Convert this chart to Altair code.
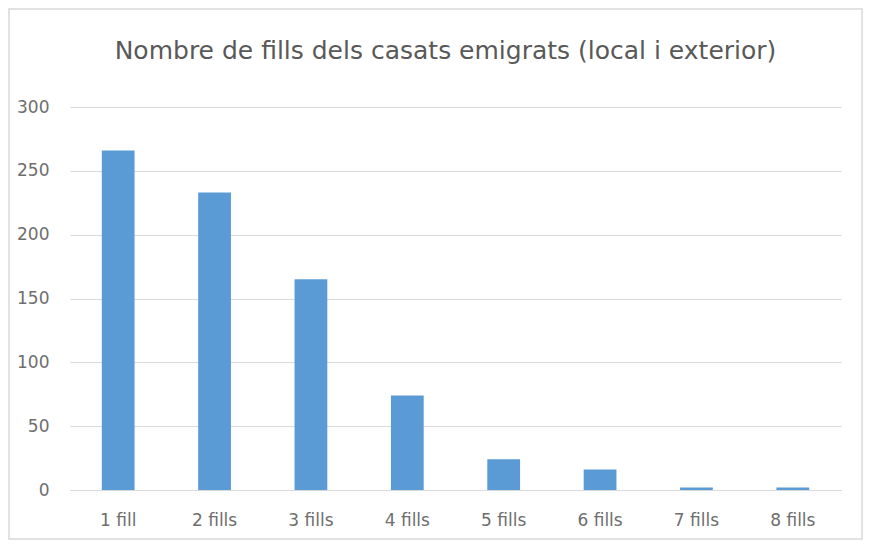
import altair as alt
import pandas as pd

title_text = "Nombre de fills dels casats emigrats (local i exterior)"
categories = ["1 fill", "2 fills", "3 fills", "4 fills", "5 fills", "6 fills", "7 fills", "8 fills"]
values = [266, 233, 165, 74, 24, 16, 2, 2]

df = pd.DataFrame({"cat": categories, "val": values})
one = pd.DataFrame({"t": [title_text]})

W, H = 771, 383
FONT = "DejaVu Sans"

bars = alt.Chart(df).mark_bar(color="#5B9BD5").encode(
    x=alt.X("cat:N", sort=categories, title=None,
            scale=alt.Scale(paddingInner=0.66, paddingOuter=0.33),
            axis=alt.Axis(labelAngle=0, labelFontSize=17, labelColor="#6e6e6e",
                          labelFont=FONT, domainColor="#d9d9d9", ticks=False,
                          labelPadding=22, grid=False)),
    y=alt.Y("val:Q", title=None,
            scale=alt.Scale(domain=[0, 300]),
            axis=alt.Axis(values=[0, 50, 100, 150, 200, 250, 300], labelFontSize=17,
                          labelColor="#6e6e6e", labelFont=FONT, domain=False,
                          ticks=False, labelPadding=21, gridColor="#d9d9d9")),
)

title = alt.Chart(one).mark_text(fontSize=25, font=FONT, color="#595959",
                                 align="center", baseline="middle", clip=False).encode(
    text="t:N", x=alt.value(W / 2 - 10), y=alt.value(-56)
)

frame = alt.Chart(one).mark_rect(filled=False, stroke="#d9d9d9", strokeWidth=1.5, clip=False).encode(
    x=alt.value(-61), x2=alt.value(W + 21), y=alt.value(-98), y2=alt.value(H + 49)
)

chart = alt.layer(bars, title, frame).properties(
    width=W, height=H,
    autosize=alt.AutoSizeParams(type="none"),
    padding={"left": 62, "top": 99, "right": 22, "bottom": 50},
).configure(background="white").configure_view(strokeWidth=0)

chart.save("out.html", embed_options={"renderer": "svg", "actions": False})
